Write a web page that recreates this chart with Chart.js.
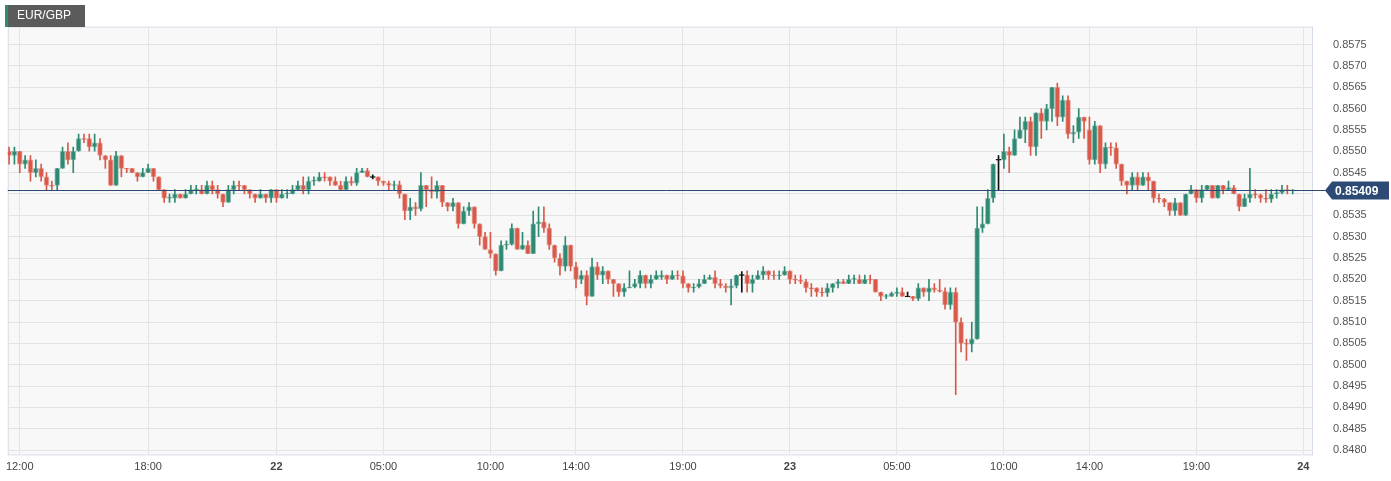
<!DOCTYPE html>
<html lang="en">
<head>
<meta charset="UTF-8">
<title>EUR/GBP</title>
<script src="https://cdn.jsdelivr.net/npm/chart.js"></script>
<style>
  html, body { margin: 0; padding: 0; background: #ffffff; }
  #wrap { width: 1391px; height: 481px; position: relative; }
</style>
</head>
<body>
<div id="wrap"><canvas id="chart"></canvas></div>
<script>
// 15-minute candles, first one at 21st 11:30; time is hours after 21st 12:00
const startHour = -0.5;
const candleStep = 0.25;

const opens = [
  .8550,.8549,.8550,.8547,.8548,.8545,.8546,.8544,.8542,.8542,
  .8546,.8550,.8548,.8550,.8553,.8553,.8551,.8552,.8549,.8548,
  .8542,.8549,.8546,.8546,.8545,.8544,.8545,.8546,.8544,.8541,
  .8539,.8539,.8540,.8539,.8540,.8541,.8541,.8540,.8542,.8541,
  .8540,.8538,.8541,.8542,.8542,.8541,.8540,.8539,.8540,.8539,
  .8541,.8539,.8540,.8540,.8541,.8542,.8541,.8543,.8543,.8544,
  .8544,.8543,.8542,.8541,.8543,.85425,.8545,.85455,.8544,.8544,
  .8543,.85425,.8542,.85422,.8540,.8536,.8537,.85365,.8542,.8541,
  .85405,.8542,.8538,.8537,.8538,.8533,.8536,.8537,.8533,.8530,
  .8527,.8526,.8522,.8528,.85282,.8532,.8527,.8528,.8526,.8533,
  .85335,.8532,.8528,.8525,.8523,.8528,.8523,.8520,.8521,.8516,
  .8523,.8521,.8522,.8520,.8519,.8517,.8518,.85182,.8519,.8521,
  .8519,.8520,.85205,.8521,.8520,.8521,.85208,.8519,.8518,.85182,
  .8519,.8520,.85205,.8519,.85185,.8518,.85185,.8521,.8521,.8519,
  .8520,.8521,.8522,.8521,.85208,.8521,.8522,.8520,.85198,.85195,
  .8518,.8518,.8517,.85168,.8518,.8519,.85195,.8519,.8520,.8520,
  .8519,.8520,.8520,.8517,.8516,.8516,.85167,.8517,.8516,.8516,
  .85155,.8518,.8517,.8518,.85175,.85172,.8514,.8517,.8510,.8505,
  .85048,.8506,.8532,.8533,.8539,.8548,.8548,.8550,.8549,.8553,
  .8555,.8557,.8551,.8559,.8557,.8560,.8565,.8558,.8562,.8554,
  .85545,.8558,.8555,.8548,.8556,.8547,.8551,.85508,.8547,.8543,
  .8542,.8544,.8542,.8544,.8543,.8539,.85388,.8538,.8536,.8538,
  .8535,.8540,.8541,.8539,.8541,.8542,.8539,.8542,.8541,.85415,
  .8540,.8537,.8539,.8540,.85398,.8539,.85388,.8540,.85403,.8541,
  .85408
];
const closes = [
  .8549,.8550,.8547,.8548,.8545,.8546,.8544,.8542,.85418,.8546,
  .8550,.8548,.8550,.8553,.85528,.8551,.8552,.8549,.8548,.8542,
  .8549,.8546,.85458,.8545,.8544,.8545,.8546,.8544,.8541,.8539,
  .85392,.8540,.8539,.8540,.8541,.85412,.8540,.8542,.8541,.8540,
  .8538,.8541,.8542,.85418,.8541,.8540,.8539,.8540,.8539,.8541,
  .8539,.8540,.85402,.8541,.8542,.8541,.8543,.85432,.8544,.85438,
  .8543,.8542,.8541,.8543,.85425,.8545,.85455,.8544,.8544,.8543,
  .85425,.8542,.85422,.8540,.8536,.8537,.85365,.8542,.8541,.85405,
  .8542,.8538,.8537,.8538,.8533,.8536,.8537,.8533,.8530,.8527,
  .8526,.8522,.8528,.85282,.8532,.8527,.8528,.8526,.8533,.85335,
  .8532,.8528,.8525,.8523,.8528,.8523,.8520,.8521,.8516,.8523,
  .8521,.8522,.8520,.8519,.8517,.8518,.85182,.8519,.8521,.8519,
  .8520,.8521,.8521,.8520,.8521,.85208,.8519,.8518,.85182,.8519,
  .8520,.85205,.8519,.85185,.8518,.85185,.8521,.8521,.8519,.8520,
  .8521,.8522,.8521,.85208,.8521,.8522,.8520,.85198,.85195,.8518,
  .85178,.8517,.85168,.8518,.8519,.85195,.8519,.8520,.85202,.8519,
  .8520,.85198,.8517,.8516,.85162,.85167,.8517,.8516,.8516,.85155,
  .8518,.8517,.8518,.85175,.85172,.8514,.8517,.8510,.8505,.85048,
  .8506,.8532,.8533,.8539,.8547,.8548,.8550,.8549,.8553,.8555,
  .8557,.8551,.8559,.8557,.8560,.8565,.8558,.8562,.8554,.85545,
  .8558,.8557,.8548,.8556,.8547,.8551,.85508,.8547,.8543,.8542,
  .8544,.8542,.8544,.8543,.8539,.85388,.8538,.8536,.8538,.8535,
  .8540,.8541,.8539,.8541,.8542,.8539,.8542,.8541,.85415,.8540,
  .8537,.8539,.8540,.85398,.8539,.85388,.8540,.85403,.8541,.85408,
  .85409
];
const highs = [
  .8551,.8551,.8550,.8549,.8549,.8548,.8547,.8545,.8543,.8546,
  .8551,.8552,.8551,.8554,.8554,.8554,.8554,.8553,.8549,.8549,
  .8550,.8549,.8546,.8546,.8545,.8546,.8547,.8546,.8544,.8541,
  .8540,.8541,.8540,.8541,.8542,.8542,.8542,.8543,.8543,.8542,
  .8540,.8542,.8543,.8543,.8542,.8541,.8540,.8541,.8540,.8541,
  .8541,.8541,.8541,.8542,.8543,.8544,.8544,.8544,.8545,.8545,
  .8544,.8544,.8543,.8544,.8544,.8546,.8546,.8546,.85445,.8544,
  .8543,.8543,.8543,.8543,.8540,.8539,.8538,.8545,.8542,.8544,
  .8543,.8542,.8538,.8539,.8538,.8537,.8538,.8537,.8533,.8531,
  .8531,.8526,.8529,.8529,.8533,.8532,.8531,.8529,.8536,.8537,
  .8537,.8533,.8528,.8526,.8530,.8528,.8524,.8522,.8522,.8525,
  .8524,.8523,.8522,.8520,.8519,.8519,.8522,.8520,.8522,.8521,
  .8521,.8522,.8522,.8521,.8522,.8522,.8522,.8519,.8519,.8520,
  .8521,.8521,.8522,.8520,.8519,.8520,.8521,.85218,.8522,.8521,
  .8522,.8523,.8522,.8522,.8522,.8523,.8522,.8521,.8521,.8520,
  .8519,.8518,.8518,.8519,.8519,.8520,.8520,.8521,.8521,.8521,
  .8521,.8521,.8520,.8517,.85165,.8517,.8518,.8518,.8517,.8516,
  .8519,.8518,.8520,.8519,.8520,.8518,.8518,.8518,.8511,.8506,
  .8510,.8537,.8537,.8541,.8547,.8549,.8554,.8551,.8555,.8558,
  .8558,.8558,.8559,.8560,.8561,.8565,.8566,.8563,.8563,.8556,
  .8560,.8558,.8558,.8557,.8556,.8552,.8552,.8552,.8547,.8543,
  .8545,.8545,.8545,.8545,.8543,.8540,.8539,.8538,.8539,.8538,
  .8540,.8542,.8541,.8542,.8542,.8542,.8542,.8542,.8543,.8542,
  .8540,.8540,.8546,.8541,.8540,.8541,.8541,.8541,.8542,.8542,
  .8541
];
const lows = [
  .8547,.8547,.8545,.8546,.8543,.8544,.8543,.8541,.8541,.8541,
  .8546,.8547,.8545,.8550,.8552,.8550,.8550,.8548,.8546,.8542,
  .8542,.8544,.8545,.8545,.8543,.8544,.8545,.8543,.8541,.8538,
  .8538,.8538,.8539,.8539,.8540,.8540,.8540,.8540,.8540,.8539,
  .8537,.8538,.8540,.8541,.8540,.8539,.8538,.8539,.8538,.8538,
  .8538,.8539,.8539,.8540,.8541,.8540,.8540,.8542,.8543,.8543,
  .8542,.8542,.8541,.8541,.8542,.8542,.8545,.8544,.85435,.8542,
  .8542,.8541,.8541,.8539,.8534,.8534,.8535,.8536,.8537,.8539,
  .8539,.8537,.8536,.8536,.8532,.8533,.8535,.8532,.8528,.8527,
  .8525,.8521,.8522,.8527,.8528,.8527,.8527,.8526,.8526,.8530,
  .8531,.8527,.8524,.8521,.8522,.8522,.8518,.8519,.8514,.8516,
  .8520,.8519,.8519,.8516,.8516,.8516,.8518,.8518,.8518,.8518,
  .8518,.8520,.8520,.8519,.8520,.8520,.8518,.8517,.8517,.8518,
  .8519,.8520,.8518,.8518,.8517,.8514,.8518,.8517,.8517,.8517,
  .8520,.8520,.8520,.8520,.8520,.8521,.8519,.8519,.8519,.8517,
  .8516,.8516,.8516,.8516,.8517,.8518,.8519,.8519,.8519,.8519,
  .8519,.8519,.8517,.8515,.85155,.8516,.8516,.8516,.8516,.8515,
  .8515,.8516,.8515,.8517,.8517,.8513,.8513,.8493,.8503,.8501,
  .8503,.8506,.8531,.8533,.8538,.8541,.8546,.8545,.8549,.8553,
  .8552,.8549,.8549,.8553,.8555,.8557,.8556,.8557,.8553,.8552,
  .8553,.8553,.8547,.8547,.8545,.8546,.8549,.8546,.8542,.8540,
  .8541,.8541,.8542,.8541,.8538,.8538,.8537,.8535,.8535,.8535,
  .8535,.8540,.8538,.8538,.8541,.8539,.8539,.8540,.8541,.8540,
  .8536,.8537,.8538,.8539,.8538,.8538,.8538,.8539,.8540,.8540,
  .8540
];

const timeTicks = [0, 6, 12, 17, 22, 26, 31, 36, 41, 46, 50, 55, 60];
const timeLabels = ['12:00', '18:00', '22', '05:00', '10:00', '14:00', '19:00', '23', '05:00', '10:00', '14:00', '19:00', '24'];
const dayLabels = ['22', '23', '24'];
const priceTicks = [0.8480, 0.8485, 0.8490, 0.8495, 0.8500, 0.8505, 0.8510, 0.8515, 0.8520, 0.8525,
  0.8530, 0.8535, 0.8540, 0.8545, 0.8550, 0.8555, 0.8560, 0.8565, 0.8570, 0.8575];
const lastPrice = 0.85409;
const symbol = 'EUR/GBP';

const upColor = '#2f8a73';
const downColor = '#d95a4a';
const upEdge = 'rgba(47,138,115,0.45)';
const downEdge = 'rgba(217,90,74,0.45)';
const dojiColor = '#111111';

const wickData = [];
const bodyData = [];
const candleColors = [];
const edgeColors = [];
opens.forEach((o, i) => {
    const c = closes[i];
    const x = startHour + i * candleStep;
    wickData.push({ x: x, y: [lows[i], highs[i]] });
    let lo = Math.min(o, c), hi = Math.max(o, c);
    if (hi - lo < 0.00002) { const m = (hi + lo) / 2; lo = m - 0.00001; hi = m + 0.00001; }
    bodyData.push({ x: x, y: [lo, hi] });
    candleColors.push(c > o ? upColor : (c < o ? downColor : dojiColor));
    edgeColors.push(c > o ? upEdge : (c < o ? downEdge : dojiColor));
});

const decorPlugin = {
    id: 'decor',
    beforeDraw(chart) {
        const { ctx, chartArea: a } = chart;
        ctx.save();
        ctx.fillStyle = '#f8f8f8';
        ctx.fillRect(a.left, a.top, a.right - a.left, a.bottom - a.top);
        ctx.strokeStyle = '#d6dde8';
        ctx.lineWidth = 1;
        ctx.strokeRect(a.left + 0.5, a.top + 0.5, a.right - a.left - 1, a.bottom - a.top);
        ctx.restore();
    },
    afterDraw(chart) {
        const { ctx, chartArea: a, scales } = chart;
        const y = Math.round(scales.y.getPixelForValue(lastPrice)) + 0.5;
        ctx.save();
        ctx.strokeStyle = '#2c4a74';
        ctx.lineWidth = 1;
        ctx.beginPath();
        ctx.moveTo(a.left, y);
        ctx.lineTo(a.right + 12, y);
        ctx.stroke();
        // price tag
        const x0 = a.right + 12;
        ctx.fillStyle = '#2c4a74';
        ctx.beginPath();
        ctx.moveTo(x0, y);
        ctx.lineTo(x0 + 7, y - 9);
        ctx.lineTo(x0 + 64, y - 9);
        ctx.lineTo(x0 + 64, y + 9);
        ctx.lineTo(x0 + 7, y + 9);
        ctx.closePath();
        ctx.fill();
        ctx.fillStyle = '#ffffff';
        ctx.font = 'bold 12px "Liberation Sans", Arial, sans-serif';
        ctx.textBaseline = 'middle';
        ctx.fillText(lastPrice.toFixed(5), x0 + 10, y + 1);
        // symbol tag
        ctx.fillStyle = '#5b5b5b';
        ctx.fillRect(5, 5, 80, 22);
        ctx.fillStyle = upColor;
        ctx.fillRect(5, 5, 3, 22);
        ctx.fillStyle = '#ffffff';
        ctx.font = '12px "Liberation Sans", Arial, sans-serif';
        ctx.fillText(symbol, 17, 16);
        ctx.restore();
    }
};

new Chart(document.getElementById('chart').getContext('2d'), {
    type: 'bar',
    data: {
        datasets: [
            { data: wickData, backgroundColor: candleColors, barThickness: 1, grouped: false, order: 2 },
            { data: bodyData, backgroundColor: candleColors, borderColor: edgeColors, borderWidth: 1,
              borderSkipped: false, barThickness: 5, grouped: false, order: 1 }
        ]
    },
    options: {
        responsive: true,
        maintainAspectRatio: false,
        animation: false,
        layout: { padding: { top: -17, left: 0, right: 0, bottom: 0 } },
        plugins: { legend: { display: false }, tooltip: { enabled: false } },
        scales: {
            x: {
                type: 'linear',
                offset: false,
                min: -0.56,
                max: 60.45,
                afterBuildTicks: axis => { axis.ticks = timeTicks.map(v => ({ value: v })); },
                afterFit: axis => { axis.height = 26; },
                ticks: {
                    autoSkip: false,
                    maxRotation: 0,
                    color: '#444444',
                    padding: 6,
                    font: ctx => ({ family: '"Liberation Sans", Arial, sans-serif', size: 11,
                        weight: dayLabels.includes(timeLabels[ctx.index]) ? 'bold' : 'normal' }),
                    callback: (v, i) => timeLabels[i]
                },
                grid: { color: '#e4e4e4', drawTicks: false, offset: false },
                border: { display: false }
            },
            y: {
                position: 'right',
                min: 0.84790,
                max: 0.85792,
                afterBuildTicks: axis => { axis.ticks = priceTicks.map(v => ({ value: v })); },
                afterFit: axis => { axis.width = 78; },
                ticks: {
                    color: '#555555',
                    padding: 20,
                    font: { family: '"Liberation Sans", Arial, sans-serif', size: 11 },
                    callback: v => v.toFixed(4)
                },
                grid: { color: '#e4e4e4', drawTicks: false },
                border: { display: false }
            }
        }
    },
    plugins: [decorPlugin]
});
</script>
</body>
</html>
